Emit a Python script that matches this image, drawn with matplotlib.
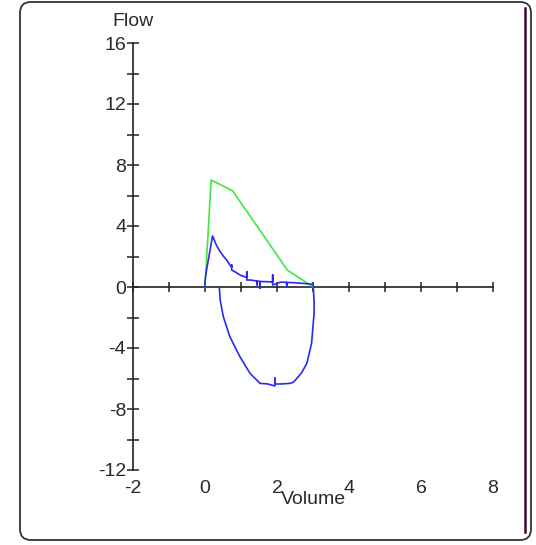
import matplotlib.pyplot as plt
from matplotlib.patches import FancyBboxPatch
from matplotlib.lines import Line2D

plt.rcParams['font.family'] = ['Liberation Sans', 'DejaVu Sans']
plt.rcParams['axes.unicode_minus'] = False

# predicted curve (green)
pred_vol = [0.0, 0.17, 0.77, 2.29, 3.01]
pred_flow = [0.0, 7.02, 6.30, 1.10, 0.0]

# measured expiration (blue, upper half)
exp_vol = [0.0, 0.0, 0.02, 0.21, 0.32, 0.42, 0.51, 0.60, 0.70, 0.74, 0.74, 0.74,
           0.83, 0.97, 1.16, 1.16, 1.16, 1.30, 1.45, 1.45, 1.45, 1.53, 1.53, 1.53,
           1.70, 1.88, 1.88, 1.88, 2.10, 2.27, 2.27, 2.27, 2.50, 2.80, 3.00, 3.02]
exp_flow = [0.0, 0.35, 0.80, 3.35, 2.72, 2.32, 2.02, 1.77, 1.42, 1.30, 1.44, 1.11,
            1.00, 0.79, 0.62, 1.00, 0.46, 0.45, 0.38, 0.14, 0.38, 0.36, -0.07, 0.36,
            0.35, 0.33, 0.79, 0.13, 0.32, 0.30, 0.02, 0.30, 0.28, 0.22, 0.18, 0.0]

# measured inspiration (blue, lower half)
insp_vol = [3.01, 3.03, 3.03, 2.96, 2.83, 2.69, 2.55, 2.45, 2.36, 2.10, 1.94, 1.94,
            1.94, 1.75, 1.53, 1.25, 0.97, 0.69, 0.51, 0.42, 0.40]
insp_flow = [-0.09, -1.00, -1.72, -3.70, -5.00, -5.60, -6.00, -6.25, -6.32, -6.36, -6.36, -5.97,
             -6.49, -6.36, -6.32, -5.66, -4.57, -3.26, -1.95, -0.85, -0.09]

x_ticks = [-2, 0, 2, 4, 6, 8]
y_ticks = [-12, -8, -4, 0, 4, 8, 12, 16]

W, H = 536, 545
fig = plt.figure(figsize=(W / 100, H / 100), dpi=100)

# rounded frame around the panel
frame = FancyBboxPatch((20 / W, 5 / H), 511 / W, 538 / H,
                       boxstyle="round,pad=0,rounding_size=0.02",
                       transform=fig.transFigure, fill=False,
                       edgecolor='#333333', linewidth=1.3)
fig.patches.append(frame)
fig.lines.append(Line2D([525 / W, 525 / W], [1 - 8 / H, 1 - 532 / H],
                        transform=fig.transFigure, color='#3a0a38', linewidth=1.8))

# axes: x from -2 to 8 (pixel 133..493), y from -12 to 16 (pixel 470..43)
ax = fig.add_axes([133 / W, 1 - 470 / H, 360 / W, 427 / H])
ax.set_xlim(-2, 8)
ax.set_ylim(-12, 16)
ax.patch.set_alpha(0)

ax.plot(pred_vol, pred_flow, color='#40e840', linewidth=1.2, zorder=3)
ax.plot(exp_vol, exp_flow, color='#2a2af0', linewidth=1.2, zorder=4)
ax.plot(insp_vol, insp_flow, color='#2a2af0', linewidth=1.2, zorder=4)

for s in ['top', 'right']:
    ax.spines[s].set_visible(False)
ax.spines['bottom'].set_position(('data', 0))
ax.spines['left'].set_color('#222222')
ax.spines['bottom'].set_color('#222222')
ax.spines['left'].set_linewidth(1.2)
ax.spines['bottom'].set_linewidth(1.2)

ax.set_yticks(y_ticks)
ax.set_yticks(range(-12, 17, 2), minor=True)
ax.set_xticks(range(-2, 9, 1))
ax.set_xticks([], minor=True)
ax.tick_params(axis='both', which='both', direction='inout', color='#222222', width=1.1)
ax.tick_params(axis='y', which='major', length=8, labelsize=14, pad=1)
ax.tick_params(axis='y', which='minor', length=8)
ax.tick_params(axis='x', which='major', length=7, labelbottom=False)

# x tick labels at the bottom, below -12
sec = ax.secondary_xaxis(0)
sec.spines['bottom'].set_visible(False)
sec.set_xticks(x_ticks)
sec.tick_params(length=0, labelsize=14, pad=7, colors='#2a2a2a')
sec.set_xlabel('Volume', fontsize=14, labelpad=-4, color='#2a2a2a')

for lab in ax.get_yticklabels():
    lab.set_color('#2a2a2a')

ax.annotate('Flow', xy=(0, 1), xycoords='axes fraction', xytext=(0, 22),
            textcoords='offset pixels', ha='center', va='center', fontsize=14,
            color='#2a2a2a')

fig.savefig('out.png', dpi=100)
